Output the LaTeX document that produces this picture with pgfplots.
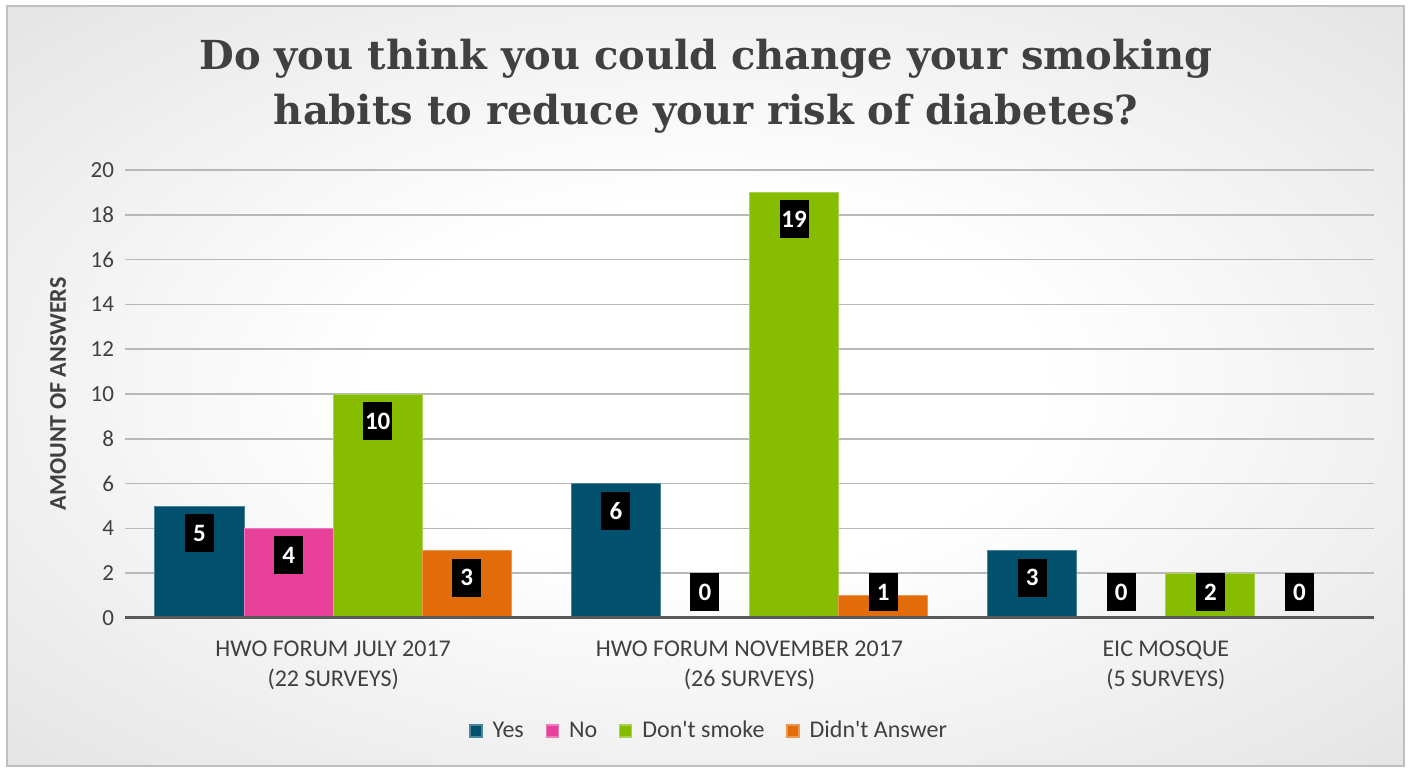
\documentclass[border=0pt]{standalone}
\usepackage{fontspec}
\setmainfont{Carlito}
\newfontfamily\titlefont{DejaVu Serif Bold}
\usepackage{pgfplots}
\pgfplotsset{compat=1.18}
\definecolor{cyes}{HTML}{00506E}
\definecolor{cno}{HTML}{E8419B}
\definecolor{csmoke}{HTML}{86BD00}
\definecolor{cna}{HTML}{E36C0A}
\definecolor{txt}{HTML}{404040}
\definecolor{axisdark}{HTML}{595959}
\pgfdeclareradialshading{bgshade}{\pgfpoint{0bp}{0bp}}{color(0bp)=(white); color(12bp)=(white); color(50bp)=(black!17); color(71bp)=(black!26)}
\begin{document}
\begin{tikzpicture}
\useasboundingbox (0pt,0pt) rectangle (704pt,383.5pt);
\fill[white] (0pt,0pt) rectangle (704pt,383.5pt);
\shade[shading=bgshade] (3.5pt,0.5pt) rectangle (702pt,380.5pt);
\draw[black!25, line width=1pt] (3.5pt,0.5pt) rectangle (702pt,380.5pt);
\node[align=center, text=txt, font=\titlefont\fontsize{20}{27.5}\selectfont] at (353pt,340.5pt) {Do you think you could change your smoking\\habits to reduce your risk of diabetes?};
\begin{axis}[
  at={(62.5pt,74.5pt)}, anchor=south west, scale only axis,
  width=624.5pt, height=224pt,
  xmin=-0.5, xmax=2.5, ymin=0, ymax=20,
  ytick={0,2,...,20},
  xtick={0,1,2},
  xticklabels={{HWO FORUM JULY 2017\\(22 SURVEYS)},{HWO FORUM NOVEMBER 2017\\(26 SURVEYS)},{EIC MOSQUE\\(5 SURVEYS)}},
  xticklabel style={align=center, font=\fontsize{12}{15}\selectfont, text=txt, yshift=-8pt},
  yticklabel style={font=\fontsize{11.5}{13}\selectfont, text=txt, xshift=-2pt},
  /pgf/number format/assume math mode=true,
  axis line style={draw=none},
  major tick length=0pt,
  tick style={draw=none},
  ymajorgrids, grid style={black!28, line width=0.8pt},
  ylabel={\bfseries AMOUNT OF ANSWERS},
  ylabel style={font=\fontsize{12}{14}\selectfont, text=txt, at={(rel axis cs:-0.0536,0.5)}, anchor=center},
  ybar=0pt, bar width=0.214,
  nodes near coords,
  visualization depends on={y \as \rawy},
  every node near coord/.append style={fill=black, text=white, font=\bfseries\fontsize{12.5}{13}\selectfont, minimum width=14.5pt, minimum height=19pt, inner sep=0pt, anchor=center, yshift={max(-13.5,13-11.2*\rawy)}},
  legend style={at={(0.4685,-0.252)}, anchor=center, legend columns=-1, draw=none, fill=none, font=\fontsize{12}{14}\selectfont, text=txt, /tikz/every even column/.append style={column sep=9pt}, /tikz/every odd column/.append style={column sep=3pt}},
  legend image code/.code={\draw[#1, line width=0.6pt] (0pt,-3pt) rectangle (6pt,3pt);},
]
\addplot[fill=cyes, draw=cyes!70!white, line width=0.5pt] coordinates {(0,5) (1,6) (2,3)};
\addplot[fill=cno, draw=cno!70!white, line width=0.5pt] coordinates {(0,4) (1,0) (2,0)};
\addplot[fill=csmoke, draw=csmoke!70!white, line width=0.5pt] coordinates {(0,10) (1,19) (2,2)};
\addplot[fill=cna, draw=cna!70!white, line width=0.5pt] coordinates {(0,3) (1,1) (2,0)};
\legend{Yes, No, Don\textquotesingle t smoke, Didn\textquotesingle t Answer}
\draw[axisdark, line width=1.6pt] (rel axis cs:0,0) -- (rel axis cs:1,0);
\end{axis}
\end{tikzpicture}
\end{document}
